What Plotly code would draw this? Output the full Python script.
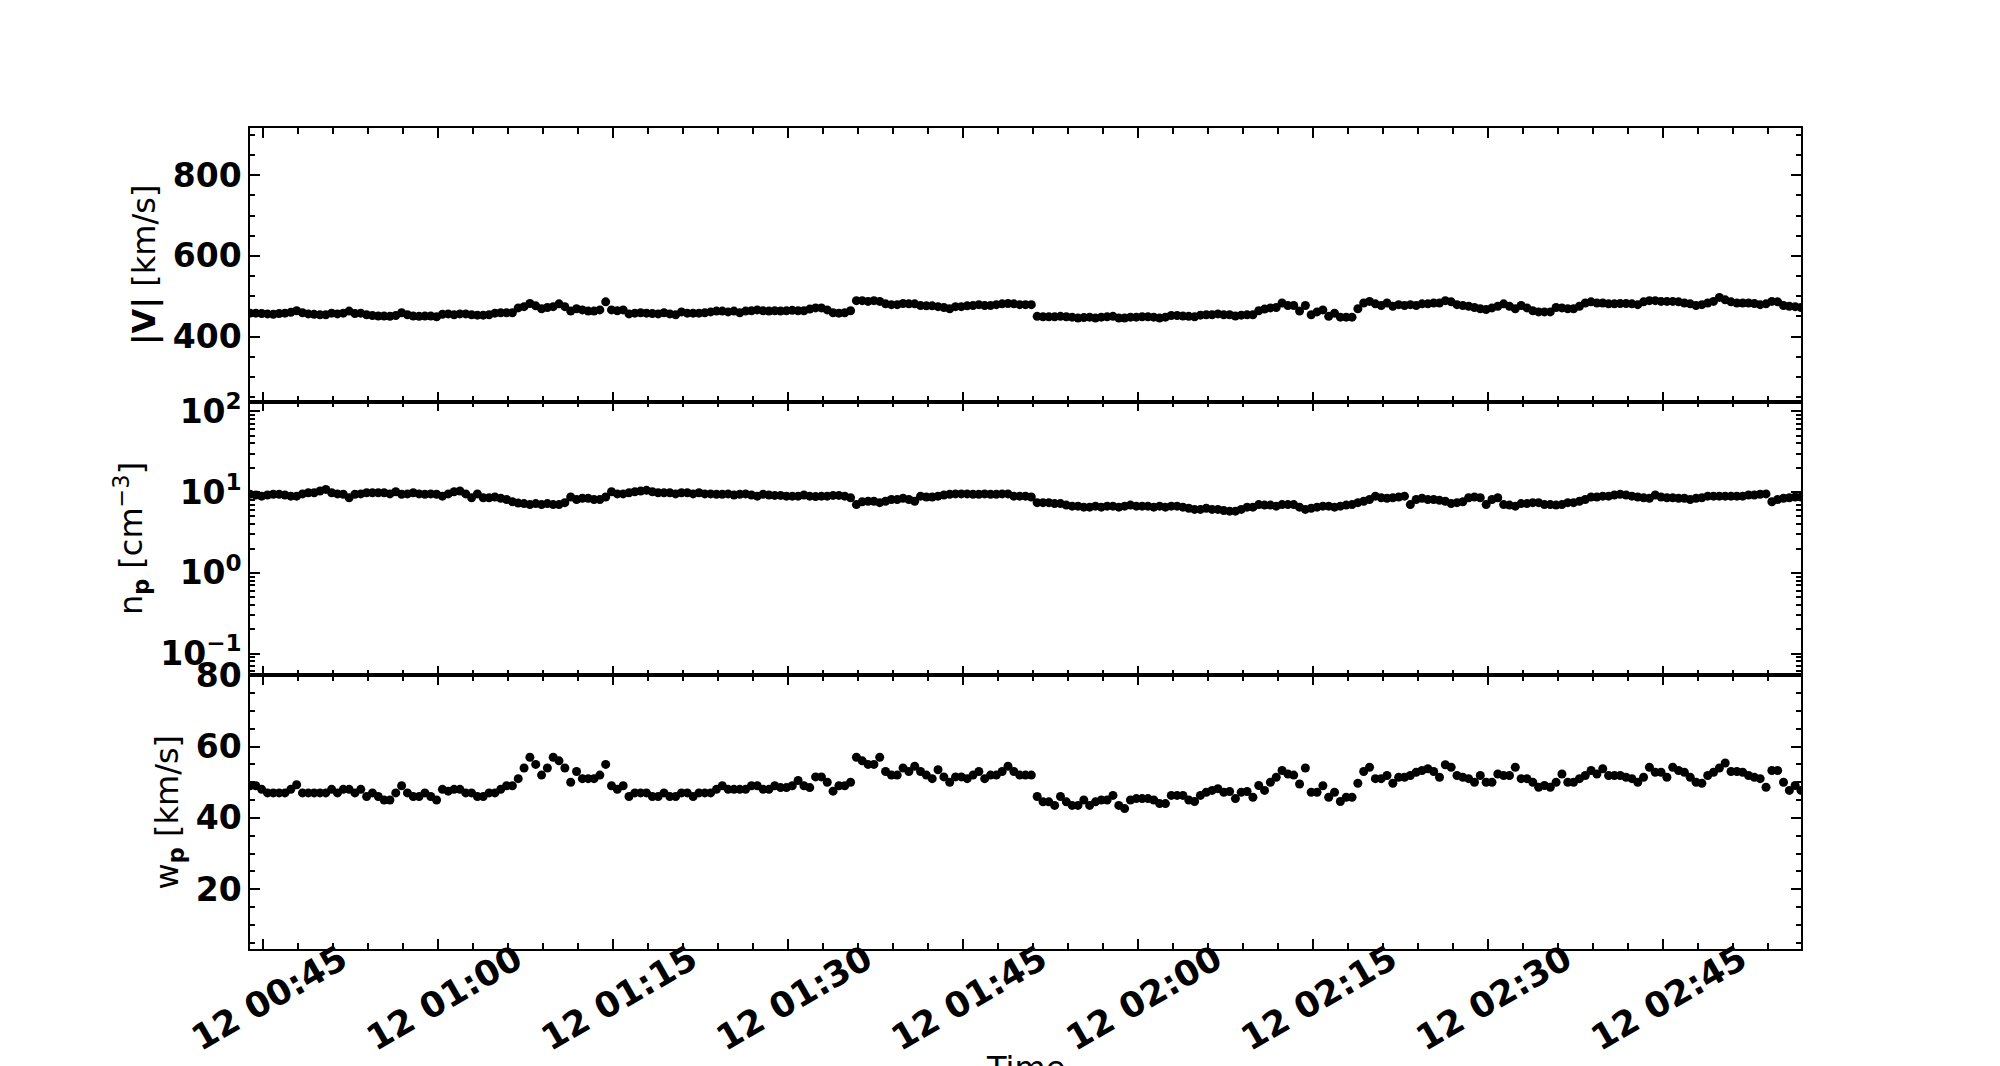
import pandas as pd
import plotly.graph_objects as go
from plotly.subplots import make_subplots

# 30 s plasma moments
t_start = '2000-01-12 00:43:52'
cadence = '30s'

# |V| [km/s]
v_mag = [
    458, 458, 457, 456, 455, 457, 458, 460, 464, 459,
    456, 455, 454, 454, 458, 456, 458, 463, 457, 458,
    454, 452, 451, 451, 450, 452, 459, 454, 451, 450,
    451, 451, 449, 455, 456, 454, 456, 456, 454, 453,
    453, 454, 458, 459, 459, 459, 471, 474, 482, 476,
    469, 472, 474, 481, 474, 463, 469, 466, 463, 463,
    466, 486, 466, 464, 466, 456, 458, 459, 458, 457,
    456, 459, 456, 454, 461, 458, 458, 458, 459, 461,
    463, 463, 461, 463, 459, 463, 464, 466, 464, 463,
    464, 463, 464, 465, 464, 464, 468, 471, 471, 466,
    459, 458, 459, 464, 489, 489, 487, 489, 487, 481,
    479, 479, 482, 481, 481, 477, 476, 476, 474, 472,
    469, 474, 474, 476, 477, 479, 477, 477, 479, 481,
    482, 481, 479, 479, 479, 450, 449, 449, 449, 450,
    449, 448, 446, 447, 448, 446, 448, 449, 450, 446,
    446, 448, 448, 449, 449, 448, 446, 448, 452, 452,
    451, 450, 449, 453, 454, 454, 456, 454, 454, 451,
    453, 454, 454, 464, 468, 471, 472, 483, 477, 477,
    463, 477, 454, 461, 466, 450, 458, 448, 448, 448,
    469, 483, 487, 481, 477, 483, 475, 479, 477, 479,
    477, 481, 481, 483, 483, 489, 486, 479, 477, 475,
    472, 469, 467, 471, 475, 481, 475, 469, 477, 471,
    464, 461, 461, 461, 472, 471, 469, 469, 475, 483,
    486, 483, 483, 481, 481, 482, 482, 481, 479, 486,
    489, 489, 487, 487, 487, 486, 483, 481, 477, 479,
    483, 487, 497, 491, 486, 483, 483, 483, 482, 479,
    481, 487, 486, 477, 475, 474, 472,
]

# n_p [cm^-3]
n_p = [
    9.4, 9.2, 8.9, 9.2, 9.4, 9.4, 9.2, 8.9, 8.9, 9.5,
    9.8, 9.8, 10.3, 10.8, 9.8, 9.5, 9.4, 8.5, 9.4, 9.5,
    9.8, 9.8, 9.8, 9.8, 9.5, 10.1, 9.4, 9.5, 9.8, 9.5,
    9.4, 9.5, 9.4, 8.9, 9.5, 10.1, 10.3, 9.5, 8.5, 9.5,
    8.5, 8.5, 8.7, 8.4, 8.1, 7.6, 7.3, 7.2, 7.0, 7.2,
    7.0, 7.2, 7.0, 7.0, 7.4, 8.7, 8.1, 8.4, 8.4, 8.1,
    8.1, 8.7, 10.1, 9.5, 9.5, 9.8, 10.1, 10.3, 10.5, 10.1,
    9.8, 9.8, 9.8, 9.5, 9.8, 9.8, 9.5, 9.8, 9.5, 9.5,
    9.4, 9.4, 9.5, 9.2, 9.4, 9.5, 9.2, 8.9, 9.4, 9.2,
    9.1, 9.1, 8.9, 8.9, 8.9, 9.2, 8.9, 8.8, 8.9, 8.9,
    9.1, 9.1, 8.9, 8.5, 7.0, 7.6, 7.7, 7.7, 7.4, 7.7,
    8.1, 8.1, 8.4, 8.1, 7.7, 8.9, 8.7, 8.7, 8.9, 9.2,
    9.4, 9.5, 9.5, 9.5, 9.4, 9.4, 9.5, 9.4, 9.4, 9.5,
    9.5, 8.9, 8.9, 8.9, 8.7, 7.4, 7.4, 7.4, 7.2, 7.2,
    6.9, 6.7, 6.7, 6.5, 6.5, 6.7, 6.5, 6.7, 6.7, 6.5,
    6.7, 6.9, 6.7, 6.7, 6.7, 6.5, 6.7, 6.5, 6.7, 6.7,
    6.5, 6.3, 6.1, 6.1, 6.3, 6.1, 6.1, 5.9, 5.8, 5.8,
    6.1, 6.5, 6.5, 7.0, 6.9, 6.9, 6.7, 7.0, 7.0, 7.0,
    6.5, 6.1, 6.3, 6.5, 6.7, 6.7, 6.5, 6.7, 6.9, 7.0,
    7.4, 7.7, 8.1, 8.9, 8.5, 8.4, 8.5, 8.7, 8.9, 7.0,
    8.1, 8.4, 8.1, 8.1, 7.9, 7.7, 7.2, 7.4, 7.6, 8.5,
    8.7, 8.5, 7.0, 8.1, 8.5, 7.0, 6.9, 6.7, 7.2, 7.2,
    7.4, 7.4, 7.0, 7.0, 6.9, 7.0, 7.4, 7.4, 7.7, 8.1,
    8.7, 8.7, 8.9, 8.9, 9.2, 9.4, 9.2, 8.9, 8.7, 8.5,
    8.4, 9.2, 8.7, 8.5, 8.5, 8.4, 8.4, 8.1, 8.4, 8.5,
    8.9, 8.9, 8.9, 8.9, 8.9, 8.9, 8.9, 9.2, 9.2, 9.4,
    9.5, 7.6, 8.1, 8.4, 8.5, 8.7, 8.7,
]

# w_p [km/s]
w_p = [
    49, 49, 48, 47, 47, 47, 47, 48, 49.3, 47,
    47, 47, 47, 47, 48, 47, 48, 48, 47, 48,
    46, 47, 46, 45, 45, 47, 49, 47, 46, 46,
    47, 46, 45, 48, 47.5, 48, 48, 47, 47, 46,
    46, 47, 47, 48, 49, 49, 51, 54, 57, 55,
    52, 54, 57, 56, 54, 50, 53, 51, 51, 51,
    52, 55, 49, 48, 49, 46, 47, 47, 47, 46,
    46, 47, 46, 46, 47, 47, 46, 47, 47, 47,
    48, 49, 48, 48, 48, 48, 49, 49, 48, 48,
    49, 48.5, 48.5, 49, 50.5, 49, 48.5, 51.5, 51.5, 50,
    47.5, 49, 49, 50, 57, 56, 55, 55, 57, 53,
    52, 52, 54, 53, 54.5, 53, 52, 51, 53.5, 51.5,
    50, 51.5, 51.5, 51, 52, 53, 51, 52, 52, 53,
    54.5, 53, 52, 52, 52, 46, 44.5, 44.5, 43.5, 46,
    44.5, 43.5, 43.5, 45, 43.5, 44.5, 45, 45, 46.3, 43.5,
    42.6, 45, 45.4, 45.4, 45.4, 45, 44, 44, 46.3, 46.3,
    46.3, 45, 44.6, 46.3, 47.2, 47.7, 48.2, 47.2, 47.4, 45.4,
    47.2, 47.4, 45.8, 49.1, 47.7, 50, 51.4, 53.3, 52.3, 52,
    49.5, 54, 47.2, 47.2, 49, 45.8, 47.2, 44.6, 45.8, 45.8,
    49.7, 53, 54.2, 51, 51, 51.9, 49.7, 51.4, 51.4, 51.9,
    52.8, 53.3, 53.8, 53, 51.4, 54.9, 54.2, 51.9, 51.4, 51,
    50, 51.9, 50, 50, 52.3, 51.9, 51.9, 54.2, 51, 51,
    50, 48.6, 49.1, 48.6, 50, 52.3, 50, 50, 51, 51.9,
    53.3, 52.3, 53.8, 51.9, 51.9, 51.9, 51.4, 51, 50, 51.4,
    54.2, 52.8, 52.8, 51.4, 54.2, 53.3, 52.8, 51.4, 50, 49.7,
    51.9, 52.8, 54, 55.4, 53, 53, 52.8, 51.9, 51.4, 51,
    48.6, 53.3, 53.3, 50, 47.7, 49.1, 47.7,
]

times = pd.date_range(t_start, periods=len(v_mag), freq=cadence)

y_titles = [
    '<b>|V|</b> [km/s]',
    'n<sub><b>p</b></sub> [cm<sup>−3</sup>]',
    'w<sub><b>p</b></sub> [km/s]',
]

fig = make_subplots(rows=3, cols=1, shared_xaxes=True, vertical_spacing=0)

for row, series in enumerate([v_mag, n_p, w_p], start=1):
    fig.add_trace(
        go.Scatter(
            x=times[:len(series)],
            y=series,
            mode='markers',
            marker=dict(color='black', size=9),
            showlegend=False,
        ),
        row=row, col=1
    )

tick_font = dict(family='DejaVu Sans', size=33, color='black', weight='bold')
title_font = dict(family='DejaVu Sans', size=32, color='black')

frame = dict(
    showline=True, linecolor='black', linewidth=1.5, mirror='allticks',
    ticks='inside', ticklen=10, tickwidth=1.5, tickcolor='black',
    showgrid=False, zeroline=False, tickfont=tick_font, automargin=False,
)

fig.update_xaxes(
    **frame,
    type='date',
    range=[times[0], times[-1]],
    tick0='2000-01-12 00:45:00',
    dtick=15 * 60 * 1000,
    tickformat='%d %H:%M',
    minor=dict(ticks='inside', ticklen=6, tickwidth=1.5, tickcolor='black',
               tick0='2000-01-12 00:45:00', dtick=3 * 60 * 1000),
)
fig.update_xaxes(showticklabels=False, row=1, col=1)
fig.update_xaxes(showticklabels=False, row=2, col=1)
fig.update_xaxes(showticklabels=True, tickangle=-30, ticklabelshift=78, ticklabelstandoff=-25,
                 tickfont=dict(tick_font, size=35), row=3, col=1)

minor_log = [k * 10.0 ** e for e in range(-2, 3) for k in range(2, 10)]

fig.update_yaxes(**frame, row=1, col=1, range=[238.5, 917], tick0=0, dtick=200,
                 minor=dict(ticks='inside', ticklen=5, tickwidth=1.5, tickcolor='black', dtick=50, tick0=0))
fig.update_yaxes(**frame, row=2, col=1, type='log', range=[-1.27, 2.12],
                 tickmode='array', tickvals=[0.1, 1, 10, 100],
                 ticktext=['10<sup>−1</sup>', '10<sup>0</sup>', '10<sup>1</sup>', '10<sup>2</sup>'],
                 minor=dict(ticks='inside', ticklen=5, tickwidth=1.5, tickcolor='black',
                            tickmode='array', tickvals=minor_log))
fig.update_yaxes(**frame, row=3, col=1, range=[3.2, 80], tick0=0, dtick=20,
                 minor=dict(ticks='inside', ticklen=5, tickwidth=1.5, tickcolor='black', dtick=5, tick0=0))

for row, title in enumerate(y_titles, start=1):
    fig.update_yaxes(title=dict(text=title, font=title_font, standoff=8), row=row, col=1)

# x axis label sits at the very bottom edge, mostly cut off as in the source figure
fig.add_annotation(text='Time', xref='paper', yref='paper', x=0.5, y=-0.119,
                   xanchor='center', yanchor='top', showarrow=False, font=title_font)

# the page body adds an 8 px offset, so margins are trimmed to keep the axes in place
fig.update_layout(
    width=2000, height=1066,
    margin=dict(l=242, r=207, t=120, b=125),
    paper_bgcolor='white', plot_bgcolor='white',
    font=dict(family='DejaVu Sans', color='black'),
    showlegend=False,
)

fig.write_html('out.html')
